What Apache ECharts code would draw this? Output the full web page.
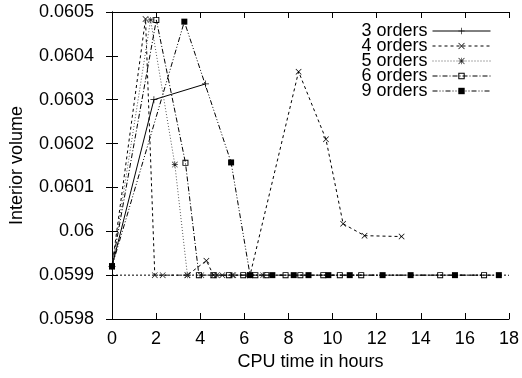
<!DOCTYPE html>
<html><head><meta charset="utf-8">
<script src="https://cdn.jsdelivr.net/npm/echarts@6/dist/echarts.min.js"></script>
<style>html,body{margin:0;padding:0;background:#fff}#c{width:522px;height:378px}</style>
</head><body><div id="c"></div>
<script>
const seriesNames = ['3 orders','4 orders','5 orders','6 orders','9 orders'];
const orders3 = [[0,0.05992],[1.9,0.0603],[4.24,0.060336]];
const orders4 = [[0,0.05992],[1.52,0.060484],[1.94,0.0599],[2.3,0.0599],[3.42,0.0599],[4.28,0.059933],[4.6,0.0599],[5.0,0.0599],[5.5,0.0599],[6.26,0.0599],[8.46,0.060364],[9.70,0.06021],[10.48,0.060017],[11.45,0.05999],[13.13,0.059988]];
const orders5 = [[0,0.05992],[1.75,0.060482],[2.85,0.060152],[3.42,0.0599],[4.05,0.0599],[4.75,0.0599],[5.45,0.0599],[6.15,0.0599],[6.85,0.0599]];
const orders6 = [[0,0.05992],[2.01,0.060482],[3.33,0.060156],[3.94,0.0599],[4.6,0.0599],[5.3,0.0599],[5.95,0.0599],[6.5,0.0599],[7.0,0.0599],[7.87,0.0599],[8.54,0.0599],[9.58,0.0599],[10.33,0.0599],[11.30,0.0599],[14.88,0.0599],[16.87,0.0599]];
const orders9 = [[0,0.05992],[3.28,0.060478],[5.40,0.060157],[6.26,0.0599],[7.27,0.0599],[8.24,0.0599],[8.91,0.0599],[9.81,0.0599],[10.78,0.0599],[12.27,0.0599],[13.54,0.0599],[15.55,0.0599],[17.54,0.0599]];
const referenceLine = [[0,0.0599],[18,0.0599]];
const xTicks = {min:0,max:18,interval:2};
const yTicks = {min:0.0598,max:0.0605,interval:0.0001};

const FONT = '"Liberation Sans", Arial, sans-serif';
const FS = 18;
const plusPath = 'path://M0,4.5L10,4.5L10,5.5L0,5.5Z M4.5,0L5.5,0L5.5,10L4.5,10Z';
const crossPath = 'path://M0,0.8L0.8,0L10,9.2L9.2,10Z M9.2,0L10,0.8L0.8,10L0,9.2Z';
const starPath = 'path://M0,4.5L10,4.5L10,5.5L0,5.5Z M4.5,0L5.5,0L5.5,10L4.5,10Z M0,0.8L0.8,0L10,9.2L9.2,10Z M9.2,0L10,0.8L0.8,10L0,9.2Z';
const openSquarePath = 'path://M0,0L10,0L10,10L0,10Z M1.6,1.6L1.6,8.4L8.4,8.4L8.4,1.6Z';

function mk(name, data, symbol, size, dash, color, mcolor) {
  return {
    name, type:'line', data, symbol, symbolSize:size, showAllSymbol:true,
    lineStyle:{color:color, width:1, type:dash},
    itemStyle:{color:mcolor||color, borderWidth:0},
    emphasis:{disabled:true}, animation:false
  };
}
const chart = echarts.init(document.getElementById('c'));
const series = [
  {type:'line', data:referenceLine, symbol:'none', silent:true, animation:false, z:1,
   lineStyle:{color:'#000', width:1, type:[2,2]}},
  mk(seriesNames[0], orders3, plusPath, 7, 'solid', '#000'),
  mk(seriesNames[1], orders4, crossPath, 6, [3,3], '#000'),
  mk(seriesNames[2], orders5, starPath, 6, [1,2], '#555', '#222'),
  mk(seriesNames[3], orders6, openSquarePath, 6, [5,2,1,2], '#000'),
  mk(seriesNames[4], orders9, 'rect', 6, [5,2,1,2,1,2], '#000')
];
chart.setOption({
  backgroundColor:'#fff',
  textStyle:{fontFamily:FONT},
  grid:{left:111,right:9,top:12,bottom:59,show:false},
  legend:{
    data:seriesNames, orient:'vertical', right:26, top:17, align:'right',
    itemWidth:58, itemHeight:8, itemGap:-3,
    lineStyle:{width:1},
    textStyle:{fontFamily:FONT, fontSize:FS, color:'#000', lineHeight:15},
    inactiveColor:'#000', selectedMode:false
  },
  xAxis:[{
    type:'value', min:xTicks.min, max:xTicks.max, interval:xTicks.interval,
    name:'CPU time in hours', nameLocation:'middle', nameGap:28,
    nameTextStyle:{fontFamily:FONT, fontSize:FS, color:'#000'},
    axisLine:{lineStyle:{color:'#000', width:1}},
    axisTick:{inside:true, length:6, lineStyle:{color:'#000'}},
    axisLabel:{fontFamily:FONT, fontSize:FS, color:'#000', margin:11},
    splitLine:{show:false}
  },{
    type:'value', position:'top', min:xTicks.min, max:xTicks.max, interval:xTicks.interval,
    axisLine:{show:true, lineStyle:{color:'#000', width:1}},
    axisTick:{inside:true, length:6, lineStyle:{color:'#000'}},
    axisLabel:{show:false}, splitLine:{show:false}
  }],
  yAxis:[{
    type:'value', min:yTicks.min, max:yTicks.max, interval:yTicks.interval,
    name:'Interior volume', nameLocation:'middle', nameGap:86, nameRotate:90,
    nameTextStyle:{fontFamily:FONT, fontSize:FS, color:'#000'},
    axisLine:{show:true, lineStyle:{color:'#000', width:1}},
    axisTick:{show:true, inside:true, length:6, lineStyle:{color:'#000'}},
    axisLabel:{fontFamily:FONT, fontSize:FS, color:'#000', margin:18,
      formatter:v=>String(+v.toFixed(4))},
    splitLine:{show:false}
  },{
    type:'value', position:'right', min:yTicks.min, max:yTicks.max, interval:yTicks.interval,
    axisLine:{show:true, lineStyle:{color:'#000', width:1}},
    axisTick:{show:true, inside:true, length:6, lineStyle:{color:'#000'}},
    axisLabel:{show:false}, splitLine:{show:false}
  }],
  series:series
});
</script></body></html>
